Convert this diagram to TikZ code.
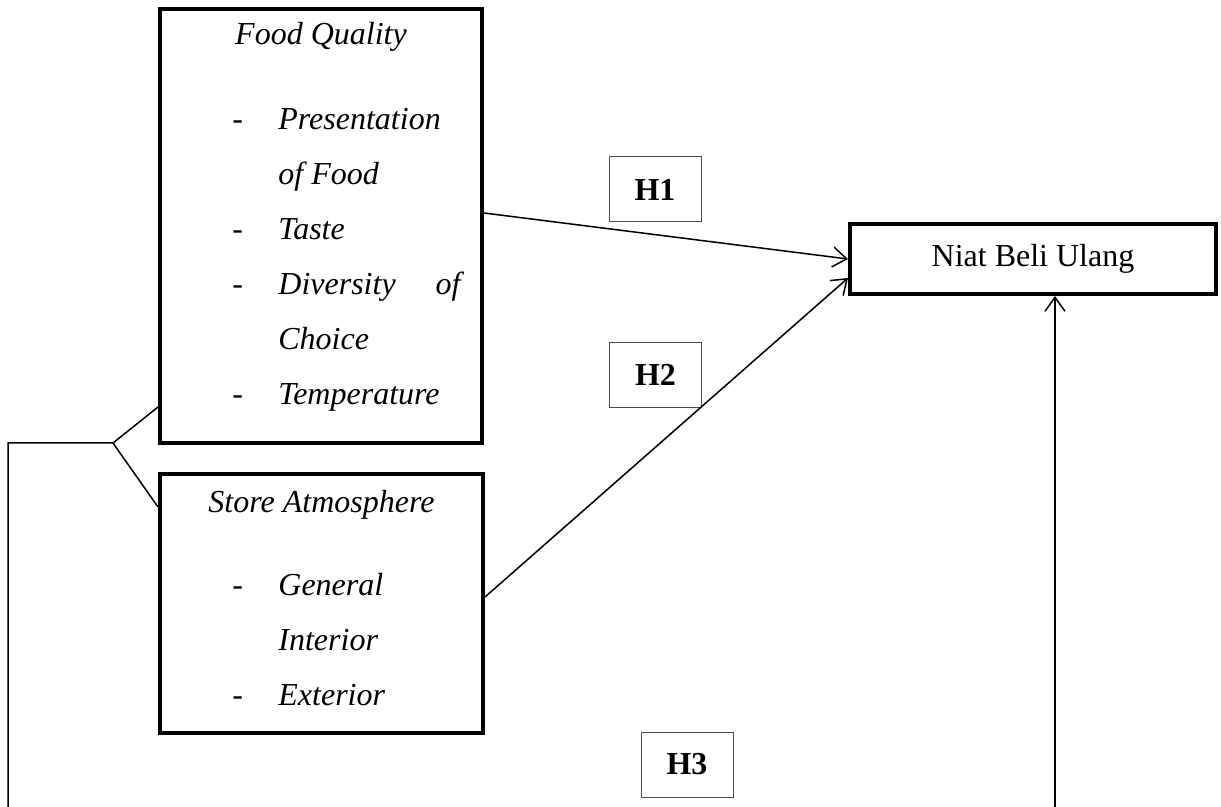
\documentclass[tikz,border=0pt]{standalone}
\usepackage{fontspec}
\setmainfont{Liberation Serif}
\usetikzlibrary{arrows.meta}

\tikzset{
  varbox/.style={draw, line width=2pt, inner sep=0pt},
  hbox/.style={draw=black!70, line width=0.5pt, minimum width=46pt, minimum height=32.5pt, inner sep=0pt, font=\fontsize{16}{19}\selectfont\bfseries},
  item/.style={inner sep=0pt, anchor=base west, font=\fontsize{16}{19}\selectfont\itshape},
  bullet/.style={inner sep=0pt, anchor=base west, font=\fontsize{16}{19}\selectfont},
  link/.style={line width=0.75pt}
}

\begin{document}
\begin{tikzpicture}[x=0.5pt, y=-0.5pt, >={Straight Barb[length=7pt,width=10pt]}]
  \useasboundingbox (0,0) rectangle (1221,807);

  % variable boxes
  \node[varbox, minimum width=161pt, minimum height=217pt] (fq) at (321,226) {};
  \node[varbox, minimum width=161.5pt, minimum height=129.5pt] (store) at (321.5,603.5) {};
  \node[varbox, minimum width=183pt, minimum height=35pt, font=\fontsize{16}{19}\selectfont] (niat) at (1033,259) {Niat Beli Ulang};

  % food quality
  \node[item, anchor=base] (fq-title) at (321,45) {Food Quality};
  \foreach \t [count=\i] in {Presentation, of Food, Taste, \makebox[91pt][s]{Diversity of}, Choice, Temperature}
    \node[item] (fq-\i) at (278,75+55*\i) {\t};
  \foreach \i in {1,3,4,6}
    \node[bullet] (fqdash-\i) at (232,75+55*\i) {-};

  % store atmosphere
  \node[item, anchor=base] (store-title) at (321.5,513) {Store Atmosphere};
  \foreach \t [count=\i] in {General, Interior, Exterior}
    \node[item] (store-\i) at (278,540+55*\i) {\t};
  \foreach \i in {1,3}
    \node[bullet] (storedash-\i) at (232,540+55*\i) {-};

  % hypotheses
  \node[hbox] (h1) at (655,189.5) {H1};
  \node[hbox] (h2) at (655.5,375) {H2};
  \node[hbox] (h3) at (687,764.5) {H3};

  % connectors
  \draw[link,->] ([yshift=6.5pt]fq.east) -- (niat.west);
  \draw[link,->] ([yshift=3.25pt]store.east) -- ([yshift=-9.5pt]niat.west);

  \coordinate (h3foot) at (1055,807);
  \draw[link,->] (h3foot) -- (h3foot |- niat.south);

  \coordinate (fork) at (113,443);
  \coordinate (lfoot) at (8,807);
  \draw[link] (lfoot) -- (lfoot |- fork) -- (fork) -- ([yshift=19pt]fq.south west);
  \draw[link] (fork) -- ([yshift=-17.5pt]store.north west);
\end{tikzpicture}
\end{document}
